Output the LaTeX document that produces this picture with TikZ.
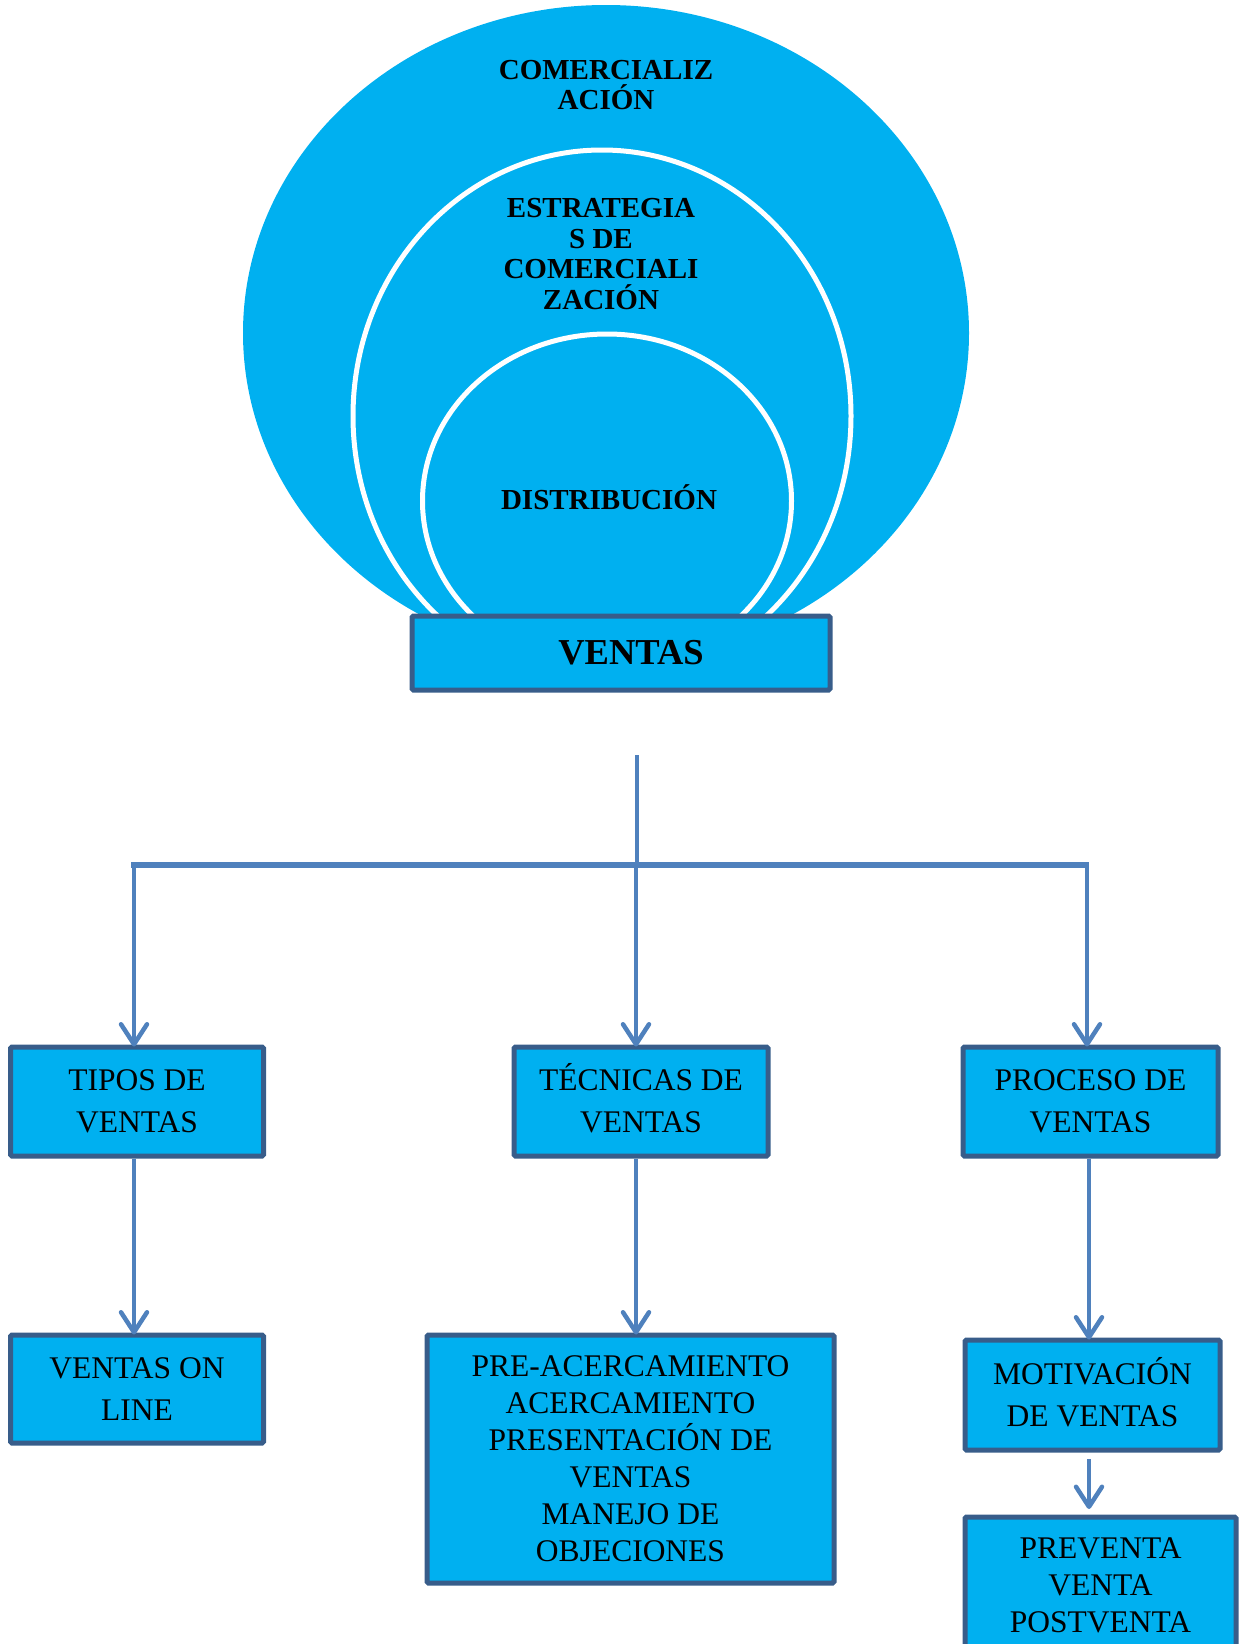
\documentclass[tikz,border=0pt]{standalone}
\usepackage{fontspec}
\setmainfont{Liberation Serif}
\usetikzlibrary{arrows.meta}
\definecolor{fillblue}{HTML}{00B0F0}
\definecolor{boxborder}{HTML}{385D8A}
\definecolor{arrowblue}{HTML}{4F81BD}
\tikzset{
  box/.style={draw=boxborder, fill=fillblue, line width=5pt, rounded corners=1.5pt,
    inner sep=0pt, align=center, text=black, font=\fontsize{31.5}{42}\selectfont},
  tightbox/.style={box, font=\fontsize{31.5}{37}\selectfont},
  conn/.style={draw=arrowblue, line width=4.5pt},
  arr/.style={conn, -{Straight Barb[length=20pt,width=26pt,line cap=round,line join=round]}},
  eltext/.style={align=center, text=black, inner sep=0pt, font=\fontsize{29}{30.5}\selectfont\bfseries}
}
\begin{document}
\begin{tikzpicture}[x=1pt,y=-1pt]
\useasboundingbox (0,0) rectangle (1243,1644);
\clip (0,0) rectangle (1243,1644);
% nested circles
\fill[fillblue] (606,333) ellipse [x radius=363, y radius=328];
\draw[white, line width=5pt] (602,416) ellipse [x radius=249, y radius=266];
\draw[white, line width=5pt] (607,501) ellipse [x radius=184.5, y radius=167];
\node[eltext] (comer) at (606,85) {COMERCIALIZ\\ACIÓN};
\node[eltext] (estrat) at (601,254) {ESTRATEGIA\\S DE\\COMERCIALI\\ZACIÓN};
\node[eltext] (distr) at (609,500) {DISTRIBUCI\smash{Ó}N};
% boxes
\node[box, minimum width=418, minimum height=74, font=\fontsize{36.5}{40}\selectfont\bfseries] (ventas) at (621,653) {\hspace*{20pt}VENTAS};
\node[box, minimum width=253, minimum height=109] (tipos) at (137,1101.5) {TIPOS DE\\VENTAS};
\node[box, minimum width=254, minimum height=109] (tecnicas) at (641,1101.5) {T\smash{É}CNICAS DE\\VENTAS};
\node[box, minimum width=255, minimum height=109] (proceso) at (1090.5,1101.5) {PROCESO DE\\VENTAS};
\node[box, minimum width=253, minimum height=108] (online) at (137,1389) {VENTAS ON\\LINE};
\node[tightbox, minimum width=407, minimum height=248] (pre) at (630.5,1459) {PRE-ACERCAMIENTO\\ACERCAMIENTO\\PRESENTACIÓN DE\\VENTAS\\MANEJO DE\\OBJECIONES};
\node[box, minimum width=255, minimum height=110] (motiv) at (1092.5,1395) {MOTIVACI\smash{Ó}N\\DE VENTAS};
\node[tightbox, minimum width=271, minimum height=136] (prev) at (1100.5,1585) {PREVENTA\\VENTA\\POSTVENTA};
% connectors
\coordinate (stem) at (637,755);
\coordinate (hub) at (637,865);
\coordinate (bl) at (134,865);
\coordinate (bm) at (636,865);
\coordinate (br) at (1087,865);
\coordinate (hl) at (131,865);
\coordinate (hr) at (1089,865);
\draw[conn] (stem) -- (hub);
\draw[conn, line width=6pt] (hl) -- (hr);
\draw[arr] (bl) -- ([yshift=-2pt]bl |- tipos.north);
\draw[arr] (bm) -- ([yshift=-2pt]bm |- tecnicas.north);
\draw[arr] (br) -- ([yshift=-2pt]br |- proceso.north);
\draw[arr] (bl |- tipos.south) -- ([yshift=-2pt]bl |- online.north);
\draw[arr] (bm |- tecnicas.south) -- ([yshift=-2pt]bm |- pre.north);
\coordinate (pc) at (1089,0);
\draw[arr] (pc |- proceso.south) -- ([yshift=-2pt]pc |- motiv.north);
\coordinate (ma) at (1089,1459);
\coordinate (mb) at (1089,1509);
\draw[arr] (ma) -- (mb);
\end{tikzpicture}
\end{document}
